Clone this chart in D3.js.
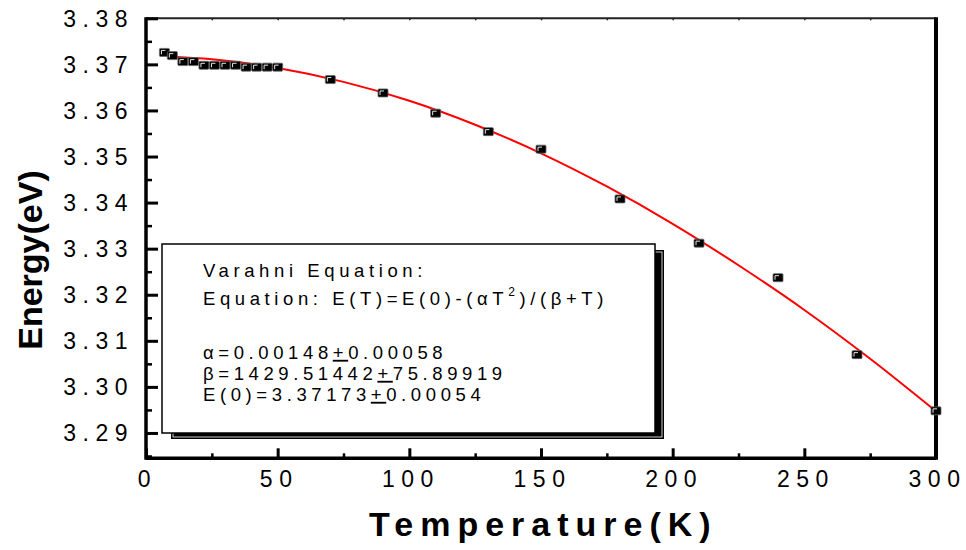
<!DOCTYPE html>
<html>
<head>
<meta charset="utf-8">
<script src="https://d3js.org/d3.v7.min.js"></script>
<style>
  body { margin: 0; background: #fff; }
  text { font-family: "Liberation Sans", Arial, sans-serif; fill: #000; }
  .tickLabel { font-size: 23px; letter-spacing: 6.5px; }
  .axisTitle { font-weight: bold; }
  .legendText { font-size: 18.5px; letter-spacing: 4.6px; }
</style>
</head>
<body>
<div id="chart"></div>
<script>
// data
var temps = [7, 10, 14, 18, 22, 26, 30, 34, 38, 42, 46, 50, 70, 90, 110, 130, 150, 180, 210, 240, 270, 300];
var energies = [3.3726, 3.3719, 3.3706, 3.3706, 3.3698, 3.3698, 3.3698, 3.3698, 3.3694, 3.3694, 3.3694, 3.3694,
                3.3667, 3.3638, 3.3594, 3.3554, 3.3516, 3.3408, 3.3312, 3.3237, 3.3070, 3.2948];

// red fit line
var fitTemps = [8, 25, 50, 75, 100, 125, 150, 175, 200, 225, 250, 275, 300];
var fitEnergies = [3.3717, 3.3711, 3.3692, 3.3662, 3.3621, 3.3569, 3.3507, 3.3435, 3.3354, 3.3264, 3.3167, 3.3061, 3.2947];

var xTickValues = [0, 50, 100, 150, 200, 250, 300];
var xMinorValues = [25, 75, 125, 175, 225, 275];
var yTickValues = [3.29, 3.30, 3.31, 3.32, 3.33, 3.34, 3.35, 3.36, 3.37, 3.38];
var yTickLabels = ["3.29", "3.30", "3.31", "3.32", "3.33", "3.34", "3.35", "3.36", "3.37", "3.38"];
var yMinorValues = [3.285, 3.295, 3.305, 3.315, 3.325, 3.335, 3.345, 3.355, 3.365, 3.375];

var legendLines = ["Varahni Equation:", "Equation: E(T)=E(0)-(\u03B1T", "\u03B1=0.00148", "\u03B2=1429.51442", "E(0)=3.37173"];
var legendErrors = ["0.00058", "75.89919", "0.00054"];

var svgWidth = 966;
var svgHeight = 550;

var margin = { top: 18.3, right: 30, bottom: 91.7, left: 146 };
var width = svgWidth - margin.left - margin.right;
var height = svgHeight - margin.top - margin.bottom;

var svg = d3.select("#chart")
  .append("svg")
  .attr("width", svgWidth)
  .attr("height", svgHeight);

var chartGroup = svg.append("g")
  .attr("transform", `translate(${margin.left}, ${margin.top})`);

var xScale = d3.scaleLinear().domain([0, 300]).range([0, width]);
var yScale = d3.scaleLinear().domain([3.2845, 3.38]).range([height, 0]);

// frame
chartGroup.append("line")
  .attr("x1", 0).attr("x2", width).attr("y1", 0).attr("y2", 0)
  .attr("stroke", "#222").attr("stroke-width", 2);

// top axis: tiny ticks
var topAxis = d3.axisTop(xScale)
  .tickValues(xTickValues.concat(xMinorValues))
  .tickSize(-2)
  .tickFormat("");
chartGroup.append("g").call(topAxis)
  .call(g => g.select(".domain").remove())
  .selectAll("line").attr("stroke", "#222").attr("stroke-width", 1.5);

// bottom axis (ticks inside)
var xAxis = d3.axisBottom(xScale).tickValues(xTickValues).tickSize(-10).tickFormat("");
var xAxisG = chartGroup.append("g")
  .attr("transform", `translate(0, ${height})`)
  .call(xAxis);
xAxisG.select(".domain").remove();
xAxisG.selectAll("line").attr("stroke", "#000").attr("stroke-width", 3);

var xMinor = d3.axisBottom(xScale).tickValues(xMinorValues).tickSize(-5).tickFormat("");
var xMinorG = chartGroup.append("g")
  .attr("transform", `translate(0, ${height})`)
  .call(xMinor);
xMinorG.select(".domain").remove();
xMinorG.selectAll("line").attr("stroke", "#000").attr("stroke-width", 2.5);

// left axis (ticks inside)
var yAxis = d3.axisLeft(yScale).tickValues(yTickValues).tickSize(-12).tickFormat("");
var yAxisG = chartGroup.append("g").call(yAxis);
yAxisG.select(".domain").remove();
yAxisG.selectAll("line").attr("stroke", "#000").attr("stroke-width", 3);

var yMinor = d3.axisLeft(yScale).tickValues(yMinorValues).tickSize(-6).tickFormat("");
var yMinorG = chartGroup.append("g").call(yMinor);
yMinorG.select(".domain").remove();
yMinorG.selectAll("line").attr("stroke", "#000").attr("stroke-width", 2.5);

chartGroup.append("line")
  .attr("x1", 0).attr("x2", width).attr("y1", height).attr("y2", height)
  .attr("stroke", "#000").attr("stroke-width", 3.5);
chartGroup.append("line")
  .attr("x1", 0).attr("x2", 0).attr("y1", -1).attr("y2", height + 1.5)
  .attr("stroke", "#000").attr("stroke-width", 3.5);
chartGroup.append("line")
  .attr("x1", width).attr("x2", width).attr("y1", -1).attr("y2", height + 1.5)
  .attr("stroke", "#000").attr("stroke-width", 4);

// tick labels
chartGroup.selectAll(".xLabel")
  .data(xTickValues)
  .enter()
  .append("text")
  .attr("class", "tickLabel")
  .attr("x", d => xScale(d) + 1.5)
  .attr("y", height + 28.5)
  .attr("text-anchor", "middle")
  .text(d => d);

chartGroup.selectAll(".yLabel")
  .data(yTickValues)
  .enter()
  .append("text")
  .attr("class", "tickLabel")
  .attr("x", -12)
  .attr("y", d => yScale(d) + 8.5)
  .attr("text-anchor", "end")
  .text((d, i) => yTickLabels[i]);

// axis titles
svg.append("text")
  .attr("class", "axisTitle")
  .attr("x", 369)
  .attr("y", 536)
  .style("font-size", "34px")
  .style("letter-spacing", "7px")
  .text("Temperature(K)");

svg.append("text")
  .attr("class", "axisTitle")
  .attr("transform", "translate(42, 260) rotate(-90)")
  .attr("text-anchor", "middle")
  .style("font-size", "34px")
  .text("Energy(eV)");

// legend box with shadow
var box = { x: 162, y: 244, w: 493, h: 189 };
var legendGroup = svg.append("g");
legendGroup.append("rect")
  .attr("x", box.x + 9).attr("y", box.y + 6)
  .attr("width", box.w).attr("height", box.h)
  .attr("fill", "#000");
legendGroup.append("rect")
  .attr("x", box.x + 11).attr("y", box.y + 8)
  .attr("width", box.w - 4).attr("height", box.h - 4)
  .attr("fill", "none").attr("stroke", "#fff").attr("stroke-width", 0.8);
legendGroup.append("rect")
  .attr("x", box.x).attr("y", box.y)
  .attr("width", box.w).attr("height", box.h)
  .attr("fill", "#fff").attr("stroke", "#000").attr("stroke-width", 1.5);

var lineY = [276.7, 305, 358.8, 379.8, 400.8];
legendGroup.append("text").attr("class", "legendText")
  .attr("x", 203).attr("y", lineY[0]).text(legendLines[0]);

var eq = legendGroup.append("text").attr("class", "legendText")
  .attr("x", 203).attr("y", lineY[1]);
eq.append("tspan").text(legendLines[1]);
eq.append("tspan").attr("dy", -9).style("font-size", "12px").text("2");
eq.append("tspan").attr("dy", 9).text(")/(\u03B2+T)");

legendErrors.forEach(function(err, i) {
  var t = legendGroup.append("text").attr("class", "legendText")
    .attr("x", 203).attr("y", lineY[i + 2]);
  t.append("tspan").text(legendLines[i + 2]);
  t.append("tspan").style("text-decoration", "underline").text("+");
  t.append("tspan").text(err);
});

// fit line
var line = d3.line()
  .x(d => xScale(d[0]))
  .y(d => yScale(d[1]))
  .curve(d3.curveMonotoneX);

chartGroup.append("path")
  .datum(fitTemps.map((t, i) => [t, fitEnergies[i]]))
  .attr("d", line)
  .attr("fill", "none")
  .attr("stroke", "#ff0000")
  .attr("stroke-width", 2);

// data points: black squares with a white corner highlight
var pointsGroup = chartGroup.selectAll(".pt")
  .data(temps.map((t, i) => [t, energies[i]]))
  .enter()
  .append("g")
  .attr("transform", d => `translate(${xScale(d[0])}, ${yScale(d[1])})`);

pointsGroup.append("rect")
  .attr("x", -5).attr("y", -4)
  .attr("width", 10).attr("height", 8)
  .attr("rx", 1)
  .attr("fill", "#000")
  .attr("stroke", "#666")
  .attr("stroke-width", 0.8);

pointsGroup.append("path")
  .attr("d", "M-3,2 V-2 H1")
  .attr("fill", "none")
  .attr("stroke", "#fff")
  .attr("stroke-width", 0.9);
</script>
</body>
</html>
